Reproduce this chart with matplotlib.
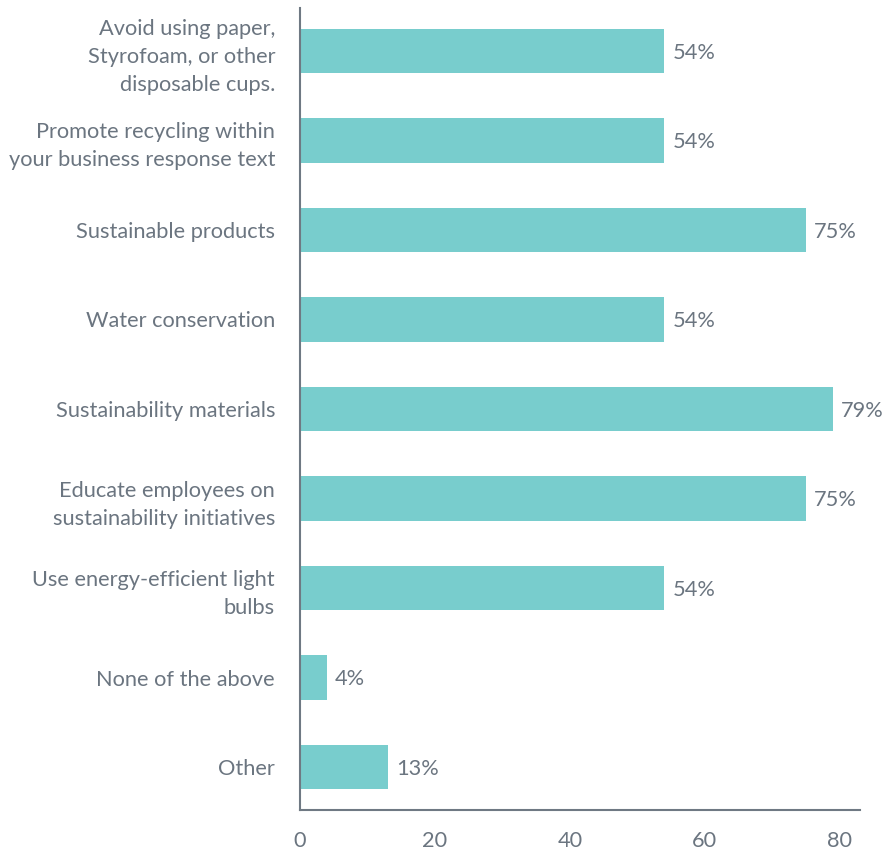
import matplotlib.pyplot as plt

# survey answers, top to bottom
labels = [
    "Avoid using paper,\nStyrofoam, or other\ndisposable cups.",
    "Promote recycling within\nyour business response text",
    "Sustainable products",
    "Water conservation",
    "Sustainability materials",
    "Educate employees on\nsustainability initiatives",
    "Use energy-efficient light\nbulbs",
    "None of the above",
    "Other",
]
values = [54, 54, 75, 54, 79, 75, 54, 4, 13]
xticks = [0, 20, 40, 60, 80]

bar_color = "#78cdcd"
text_color = "#6b7580"
axis_color = "#6f7983"

plt.rcParams["font.family"] = ["Lato", "DejaVu Sans"]

fig = plt.figure(figsize=(8.88, 8.52), dpi=100)
ax = fig.add_axes([300 / 888, 1 - 810 / 852, 560 / 888, 802 / 852])

pos = list(range(len(labels)))
ax.barh(pos, values, height=0.5, color=bar_color)
for y, v in zip(pos, values):
    ax.text(v + 1.2, y + 0.02, f"{v}%", va="center", ha="left",
            fontsize=15.7, color=text_color)

ax.set_yticks(pos)
ax.set_yticklabels(labels, fontsize=15.7, color=text_color, linespacing=1.5)
ax.set_xticks(xticks)
ax.set_xticklabels([str(t) for t in xticks], fontsize=15.7, color=text_color)
ax.tick_params(axis="y", length=0, pad=18)
ax.tick_params(axis="x", length=0, pad=15)

ax.set_xlim(0, 83)
ax.set_ylim(8.48, -0.48)

for s in ["top", "right"]:
    ax.spines[s].set_visible(False)
for s in ["left", "bottom"]:
    ax.spines[s].set_color(axis_color)
    ax.spines[s].set_linewidth(1.5)

fig.savefig("out.png", dpi=100, facecolor="white")
